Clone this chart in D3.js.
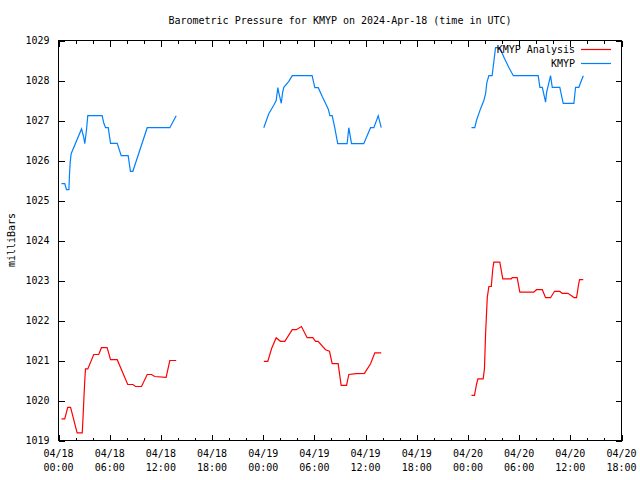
<!DOCTYPE html>
<html>
<head>
<meta charset="utf-8">
<script src="https://cdn.jsdelivr.net/npm/d3@7"></script>
<style>
  html, body { margin: 0; padding: 0; background: #fff; }
  text { font-family: "DejaVu Sans Mono", monospace; font-size: 10px; fill: #000; }
</style>
</head>
<body>
<svg id="chart" width="640" height="480"></svg>
<script>
// ---- data (hours since 2024-04-18 00:00 UTC, pressure in mb); null = gap ----
const obsHours = [0.35,0.74,0.94,1.21,1.29,1.37,1.49,2.70,2.93,3.08,3.28,3.43,5.12,5.31,5.51,5.83,6.10,6.88,7.35,8.17,8.44,8.71,10.40,13.05,13.80,
  null,
  24.07,24.65,25.24,25.52,25.71,25.82,26.11,26.26,26.41,27.00,27.40,29.74,30.05,30.45,30.92,31.30,31.62,31.81,32.09,32.39,32.74,33.84,34.03,34.35,35.79,36.58,36.97,37.48,37.83,
  null,
  48.42,48.80,49.00,49.47,49.86,50.06,50.21,50.45,50.84,51.23,51.74,52.21,52.79,53.31,56.24,56.43,56.71,57.10,57.21,57.68,57.88,58.77,59.17,60.41,60.61,61.00,61.51];
const obsValues = [1025.42,1025.42,1025.27,1025.27,1025.62,1025.94,1026.17,1026.79,1026.60,1026.42,1026.77,1027.12,1027.12,1026.93,1026.82,1026.82,1026.43,1026.43,1026.12,1026.12,1025.73,1025.73,1026.82,1026.82,1027.12,
  null,
  1026.82,1027.17,1027.38,1027.50,1027.82,1027.70,1027.43,1027.70,1027.83,1027.98,1028.12,1028.12,1027.82,1027.82,1027.60,1027.43,1027.29,1027.12,1027.12,1026.82,1026.42,1026.42,1026.82,1026.42,1026.42,1026.82,1026.82,1027.12,1026.82,
  null,
  1026.82,1026.82,1027.00,1027.29,1027.50,1027.67,1027.95,1028.12,1028.12,1028.82,1028.82,1028.58,1028.33,1028.12,1028.12,1027.83,1027.83,1027.46,1027.70,1028.12,1027.83,1027.83,1027.43,1027.43,1027.83,1027.83,1028.12];

const anaHours = [0.35,0.74,1.09,1.41,2.19,2.78,2.85,2.97,3.08,3.17,3.43,4.14,4.72,5.04,5.70,6.10,6.88,8.12,8.71,9.03,9.73,10.40,10.90,11.29,12.62,13.05,13.80,
  null,
  24.07,24.54,24.98,25.52,26.02,26.53,27.40,27.86,28.49,29.15,29.81,30.13,30.43,31.30,31.77,32.09,32.79,33.14,33.76,34.03,34.90,35.87,36.58,37.08,37.83,
  null,
  48.42,48.77,49.00,49.16,49.79,49.94,50.06,50.26,50.45,50.73,50.92,51.04,51.74,52.09,53.08,53.19,53.77,54.08,55.72,56.04,56.71,57.10,57.68,58.15,58.77,59.05,59.71,60.26,60.41,60.73,60.96,61.08,61.51];
const anaValues = [1019.54,1019.54,1019.83,1019.83,1019.19,1019.19,1019.46,1020.00,1020.52,1020.79,1020.79,1021.15,1021.15,1021.32,1021.32,1021.02,1021.02,1020.40,1020.40,1020.35,1020.35,1020.65,1020.65,1020.60,1020.58,1021.00,1021.00,
  null,
  1020.98,1020.98,1021.30,1021.57,1021.48,1021.48,1021.77,1021.77,1021.85,1021.57,1021.57,1021.48,1021.48,1021.27,1021.23,1020.92,1020.92,1020.38,1020.38,1020.65,1020.67,1020.68,1020.92,1021.19,1021.19,
  null,
  1020.13,1020.13,1020.40,1020.54,1020.54,1020.79,1021.67,1022.58,1022.85,1022.85,1023.30,1023.46,1023.46,1023.04,1023.04,1023.07,1023.07,1022.71,1022.71,1022.77,1022.77,1022.57,1022.57,1022.73,1022.73,1022.68,1022.68,1022.60,1022.57,1022.57,1022.90,1023.02,1023.02];

const yTicks = [1019,1020,1021,1022,1023,1024,1025,1026,1027,1028,1029];
const seriesNames = ["KMYP Analysis", "KMYP"];
const seriesColors = ["#ff0000", "#0080ff"];
const titleText = "Barometric Pressure for KMYP on 2024-Apr-18 (time in UTC)";
const yLabel = "milliBars";

// ---- layout ----
const start = new Date(Date.UTC(2024, 3, 18, 0, 0));
const end = new Date(Date.UTC(2024, 3, 20, 18, 0));
const L = 58.5, R = 621.5, T = 40.5, B = 440.5;

const svg = d3.select("#chart");
const x = d3.scaleUtc().domain([start, end]).range([L, R]);
const y = d3.scaleLinear().domain([1019, 1029]).range([B, T]);

const toDate = h => d3.utcMinute.offset(start, Math.round(h * 60));
const makeData = (hs, vs) => hs.map((h, i) => ({ t: h == null ? null : toDate(h), v: vs[i] }));

// frame
svg.append("rect").attr("x", L).attr("y", T).attr("width", R - L).attr("height", B - T)
  .attr("fill", "none").attr("stroke", "#000").attr("stroke-width", 1);

const majorX = d3.utcHour.every(6).range(start, d3.utcHour.offset(end, 1));
const minorX = d3.utcHour.every(2).range(start, d3.utcHour.offset(end, 1)).filter(d => d.getUTCHours() % 6 !== 0);
const fmtDate = d3.utcFormat("%m/%d"), fmtTime = d3.utcFormat("%H:%M");

function bare(g) { g.select(".domain").remove(); g.selectAll(".tick line").attr("stroke", "#000").attr("shape-rendering", "crispEdges"); }

// bottom axis
svg.append("g").attr("transform", `translate(0,${B})`)
  .call(d3.axisBottom(x).tickValues(majorX).tickSize(-6).tickFormat("")).call(bare);
svg.append("g").attr("transform", `translate(0,${B})`)
  .call(d3.axisBottom(x).tickValues(minorX).tickSize(-3).tickFormat("")).call(bare);
// top axis mirrored
svg.append("g").attr("transform", `translate(0,${T})`)
  .call(d3.axisTop(x).tickValues(majorX).tickSize(-6).tickFormat("")).call(bare);
svg.append("g").attr("transform", `translate(0,${T})`)
  .call(d3.axisTop(x).tickValues(minorX).tickSize(-3).tickFormat("")).call(bare);

// x labels (two lines)
const xl = svg.append("g");
majorX.forEach(d => {
  const t = xl.append("text").attr("x", x(d)).attr("text-anchor", "middle");
  t.append("tspan").attr("x", x(d)).attr("y", 457).text(fmtDate(d));
  t.append("tspan").attr("x", x(d)).attr("y", 471).text(fmtTime(d));
});

// y axes
const yl = svg.append("g").attr("transform", `translate(${L},0)`)
  .call(d3.axisLeft(y).tickValues(yTicks).tickSize(-6).tickPadding(9).tickFormat(d3.format("d"))).call(bare);
yl.selectAll("text").style("font-family", "DejaVu Sans Mono").style("font-size", "10px");
svg.append("g").attr("transform", `translate(${R},0)`)
  .call(d3.axisRight(y).tickValues(yTicks).tickSize(-6).tickFormat("")).call(bare);

// titles
svg.append("text").attr("x", 340).attr("y", 24).attr("text-anchor", "middle").text(titleText);
svg.append("text").attr("transform", "translate(15,240) rotate(-90)").attr("text-anchor", "middle").text(yLabel);

// lines
const line = d3.line().defined(d => d.t != null && d.v != null).x(d => x(d.t)).y(d => y(d.v));
const datasets = [makeData(anaHours, anaValues), makeData(obsHours, obsValues)];
datasets.forEach((data, i) => {
  svg.append("path").datum(data).attr("d", line)
    .style("fill", "none").style("stroke", seriesColors[i]).style("stroke-width", "1.2px");
});

// legend
seriesNames.forEach((name, i) => {
  const ly = 49 + i * 14;
  svg.append("text").attr("x", 575).attr("y", ly + 4).attr("text-anchor", "end").text(name);
  svg.append("path").attr("d", `M581,${ly + 0.5}H611`)
    .style("fill", "none").style("stroke", seriesColors[i]).style("stroke-width", "1.2px");
});
</script>
</body>
</html>
